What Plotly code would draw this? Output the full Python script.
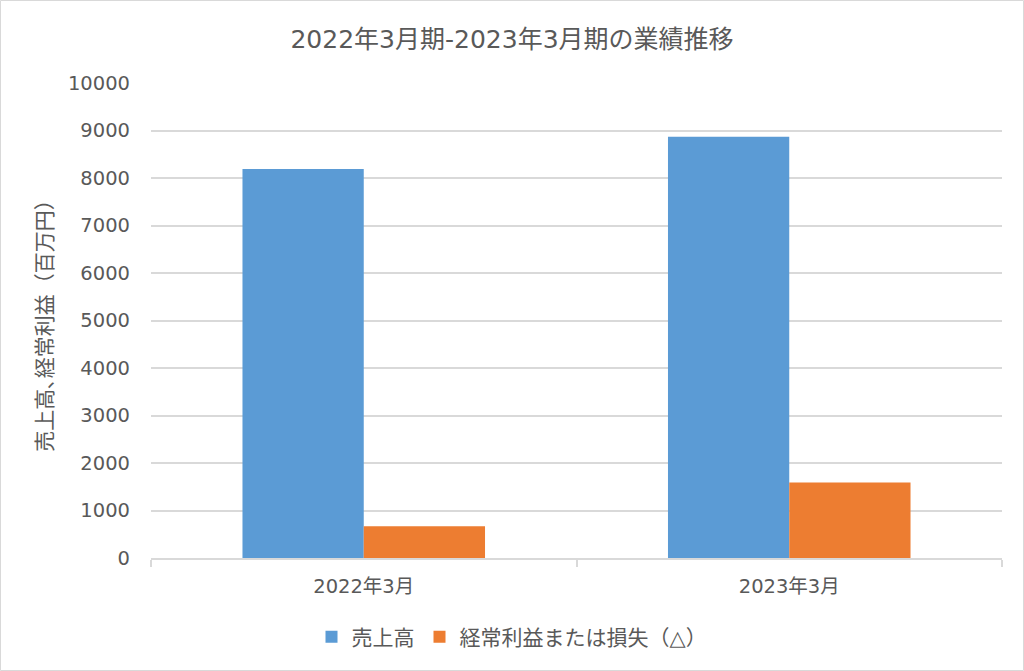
import plotly.graph_objects as go

categories = ["2022年3月", "2023年3月"]
sales = [8190, 8870]
ordinary_profit = [670, 1590]
series_names = ["売上高", "経常利益または損失（△）"]
title_text = "2022年3月期-2023年3月期の業績推移"
y_title = "売上高､経常利益（百万円）"
y_ticks = list(range(0, 10001, 1000))

FONT = "DejaVu Sans, Noto Sans CJK JP, sans-serif"
GRAY = "#595959"
GRID = "#d9d9d9"

W, H = 1024, 671
L, R, T, B = 151, 22, 83, 113
pw, ph = W - L - R, H - T - B

fig = go.Figure()
fig.add_trace(go.Bar(x=categories, y=sales, name=series_names[0],
                     marker=dict(color="#5B9BD5", line=dict(width=0))))
fig.add_trace(go.Bar(x=categories, y=ordinary_profit, name=series_names[1],
                     marker=dict(color="#ED7D31", line=dict(width=0))))

fig.update_layout(
    width=W, height=H,
    margin=dict(l=L, r=R, t=T, b=B),
    paper_bgcolor="white", plot_bgcolor="white",
    font=dict(family=FONT, color=GRAY, size=19),
    barmode="group", bargap=0.43, bargroupgap=0,
    title=dict(text=title_text, x=0.5, xanchor="center", y=1 - 39 / H, yanchor="middle",
               font=dict(size=25, color=GRAY, family=FONT)),
    legend=dict(orientation="h", x=(512 - L) / pw, xanchor="center", y=(ph - (637 - T)) / ph,
                yanchor="middle", font=dict(size=21, color=GRAY), itemsizing="constant",
                traceorder="normal"),
    showlegend=True,
)
fig.update_yaxes(range=[0, 10000], tickvals=y_ticks, tickformat="d", showgrid=True, gridcolor=GRID,
                 gridwidth=1.5, zeroline=False, showline=False, ticks="", ticklabelstandoff=20,
                 tickfont=dict(size=19.5, color=GRAY),
                 title=dict(text=y_title, font=dict(size=21, color=GRAY), standoff=9))
fig.update_xaxes(showline=True, linecolor=GRID, linewidth=1.5, ticks="outside", tickson="boundaries",
                 ticklen=7, tickcolor=GRID, tickwidth=1.5, ticklabelstandoff=10,
                 tickfont=dict(size=19.5, color=GRAY))

fig.add_shape(type="rect", xref="paper", yref="paper",
              x0=-(L - 0.5) / pw, x1=1 + (R - 0.5) / pw,
              y0=-(B - 0.5) / ph, y1=1 + (T - 0.5) / ph,
              line=dict(color=GRID, width=1), fillcolor="rgba(0,0,0,0)", layer="above")

fig.write_html("out.html")
